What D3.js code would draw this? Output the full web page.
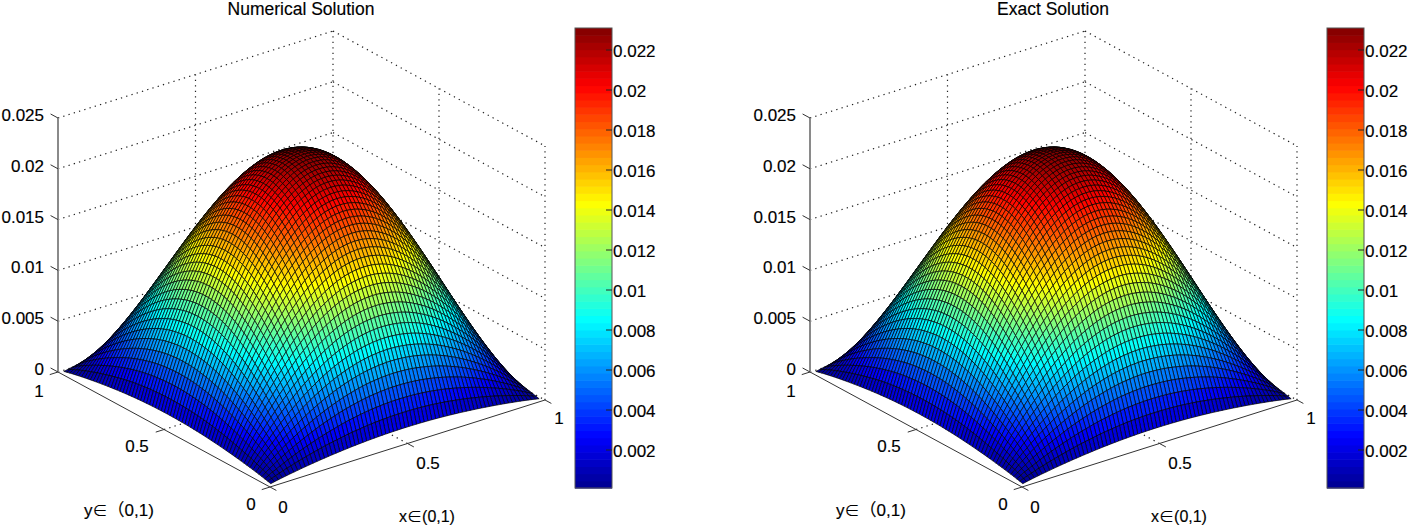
<!DOCTYPE html>
<html><head><meta charset="utf-8">
<style>html,body{margin:0;padding:0;background:#fff}svg{display:block}text{font-family:"Liberation Sans",Arial,"Noto Sans CJK SC",sans-serif;fill:#000;stroke:#000;stroke-width:.15}</style>
<script src="https://cdn.jsdelivr.net/npm/d3@7/dist/d3.min.js"></script>
</head><body><svg id="c" width="1409" height="527"></svg>
<script>
const panelTitles = ["Numerical Solution","Exact Solution"];
const peakValue = 0.023;
const profileHalf = [.0617,.1186,.1707,.2198,.2669,.3119,.3553,.3973,.4378,.4771,.5150,.5515,.5867,.6206,.6531,.6845,.7144,.7430,.7701,.7958,.8202,.8430,.8642,.8841,.9022,.9192,.9344,.9482,.9602,.9707,.9796,.9870,.9927,.9968,.9992,1];
const zTicks = [0,0.005,0.01,0.015,0.02,0.025];
const zTickLabels = ["0","0.005","0.01","0.015","0.02","0.025"];
const xyTicks = [0,0.5,1];
const xyTickLabels = ["0","0.5","1"];
const barTicks = [0.002,0.004,0.006,0.008,0.01,0.012,0.014,0.016,0.018,0.02,0.022];
const barTickLabels = ["0.002","0.004","0.006","0.008","0.01","0.012","0.014","0.016","0.018","0.02","0.022"];
const barDomain = [0.0001,0.0231];
const jetColors = ["#00008f","#0000ff","#00ffff","#ffff00","#ff0000","#800000"];
const jetPositions = [0,0.111,0.365,0.619,0.873,1];

const profile = profileHalf.concat(profileHalf.slice(0,-1).reverse());
const n = profile.length;
const gridLo = 0.012, gridHi = 0.988;
const grid = d3.range(n).map(i => gridLo + i*(gridHi-gridLo)/(n-1));

const svg = d3.select("#c");
const jetT = d3.scaleLinear().domain(barDomain).range([0,1]).clamp(true);
const jet = d3.scaleLinear().domain(jetPositions).range(jetColors);
const color = v => jet(jetT(v));

const sxX = d3.scaleLinear([0,1],[0,275]), sxY = d3.scaleLinear([0,1],[0,-87]);
const syX = d3.scaleLinear([0,1],[0,-212]), syY = d3.scaleLinear([0,1],[0,-115]);
const szY = d3.scaleLinear([0,0.025],[0,-254]);
const proj = (x,y,z) => [270+sxX(x)+syX(y), 487+sxY(x)+syY(y)+szY(z)];
const seg = (g,a,b,cls) => g.append("line").attr("x1",a[0]).attr("y1",a[1]).attr("x2",b[0]).attr("y2",b[1]).call(cls);
const dotted = s => s.attr("stroke","#222").attr("stroke-width",1.2).attr("stroke-dasharray","1.3 4.2");
const solid = s => s.attr("stroke","#333").attr("stroke-width",1);
const label = (g,t,x,y,anchor,size) => g.append("text").text(t).attr("x",x).attr("y",y).attr("text-anchor",anchor).attr("dominant-baseline","central").attr("font-size",size);
const spanLabel = (g,parts,x,y) => {
  const t = g.append("text").attr("x",x).attr("y",y).attr("text-anchor","middle").attr("dominant-baseline","central");
  parts.forEach(([s,size]) => t.append("tspan").text(s).attr("font-size",size));
};

panelTitles.forEach((title,pi) => {
  const g = svg.append("g").attr("transform",`translate(${pi*752},0)`);
  label(g,title,301,9,"middle",17.5);

  // walls
  const w = g.append("g");
  zTicks.forEach(z => {
    seg(w,proj(0,1,z),proj(1,1,z),dotted);
    seg(w,proj(1,1,z),proj(1,0,z),dotted);
  });
  xyTicks.slice(1).forEach(t => seg(w,proj(t,1,0),proj(t,1,0.025),dotted));
  xyTicks.slice(0,2).forEach(t => seg(w,proj(1,t,0),proj(1,t,0.025),dotted));
  seg(w,proj(0.5,0,0),proj(0.5,1,0),dotted);
  seg(w,proj(0,0.5,0),proj(1,0.5,0),dotted);

  // axes
  const a = g.append("g");
  seg(a,proj(0,1,0),proj(0,0,0),solid);
  seg(a,proj(0,0,0),proj(1,0,0),solid);
  seg(a,proj(0,1,0),proj(0,1,0.025),s=>s.attr("stroke","#8a8a8a").attr("stroke-width",2));
  zTicks.forEach((z,i) => {
    seg(a,proj(0,1,z),proj(0,1.035,z),solid);
    const p = proj(0,1,z);
    label(a,zTickLabels[i],44,p[1]-2.5,"end",17);
  });
  xyTicks.forEach(t => {
    seg(a,proj(t,0,0),proj(t,-0.03,0),solid);
    seg(a,proj(0,t,0),proj(-0.03,t,0),solid);
  });
  const xl=[[283,507],[428,463],[559,418]], yl=[[251,504],[137,446],[39,391]];
  xyTickLabels.forEach((t,i)=>{ label(a,t,xl[i][0],xl[i][1],"middle",17); label(a,t,yl[i][0],yl[i][1],"middle",17); });
  spanLabel(a,[["y",17],["∈",15],["（",17],["0,1)",17]],119,510);
  spanLabel(a,[["x",16],["∈",15],["(0,1)",16]],427,516);

  // surface back to front
  const s = g.append("g").attr("stroke","#000").attr("stroke-width",0.85).attr("stroke-opacity",0.8).attr("stroke-linejoin","round");
  const Z = (i,j) => peakValue*profile[i]*profile[j];
  for (let i=n-2;i>=0;i--) for (let j=n-2;j>=0;j--) {
    const c=[[i,j],[i+1,j],[i+1,j+1],[i,j+1]];
    const pts=c.map(([a,b])=>proj(grid[a],grid[b],Z(a,b)));
    const v=d3.mean(c,([a,b])=>Z(a,b));
    s.append("path").attr("d","M"+pts.map(p=>p[0].toFixed(2)+","+p[1].toFixed(2)).join("L")+"Z").attr("fill",color(v));
  }

  // colorbar
  const bar = g.append("g");
  const by = d3.scaleLinear().domain(barDomain).range([488,28]);
  const levels = 64;
  d3.range(levels).forEach(k=>{
    const v0=barDomain[0]+(barDomain[1]-barDomain[0])*k/levels, v1=barDomain[0]+(barDomain[1]-barDomain[0])*(k+1)/levels;
    bar.append("rect").attr("x",575).attr("width",37).attr("y",by(v1)).attr("height",by(v0)-by(v1)+0.6).attr("fill",color((v0+v1)/2));
  });
  bar.append("rect").attr("x",575).attr("y",28).attr("width",37).attr("height",460).attr("fill","none").attr("stroke","#555").attr("stroke-width",1);
  barTicks.forEach((v,i)=>{
    seg(bar,[606,by(v)],[612,by(v)],s=>s.attr("stroke","#222").attr("stroke-width",1));
    label(bar,barTickLabels[i],613,by(v)+1,"start",17);
  });
});
</script></body></html>
